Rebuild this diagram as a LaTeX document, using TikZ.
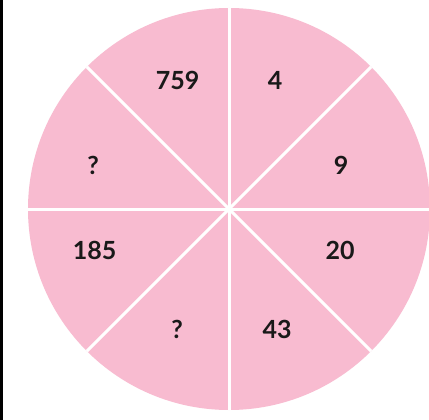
\documentclass[tikz,border=0pt]{standalone}
\usepackage{fontspec}
\setmainfont{Lato}
\usepackage{xcolor}
\definecolor{petal}{HTML}{F8BBD0}

\begin{document}
\begin{tikzpicture}[x=1pt,y=-1pt]
  \useasboundingbox (0,0) rectangle (429,420);
  \fill[white] (0,0) rectangle (429,420);
  \draw[black,line width=3pt] (1.5,0) -- (1.5,420);
  \fill[petal] (229,209) circle (201);
  \coordinate (hub) at (229,209);
  \foreach \a in {0,45,...,315} {
    \draw[white,line width=3pt] (hub) -- ++(\a:201);
  }
  \tikzset{num/.style={font=\bfseries\fontsize{25}{30}\selectfont,text=black!90}}
  \node[num] (nw) at (177.5,80.5) {759};
  \node[num] (ne) at (275,80.5) {4};
  \node[num] (en) at (341,165.5) {9};
  \node[num] (es) at (340,250) {20};
  \node[num] (se) at (277,329.5) {43};
  \node[num] (sw) at (177,329.5) {?};
  \node[num] (ws) at (94.5,250) {185};
  \node[num] (wn) at (93,165.5) {?};
\end{tikzpicture}
\end{document}
